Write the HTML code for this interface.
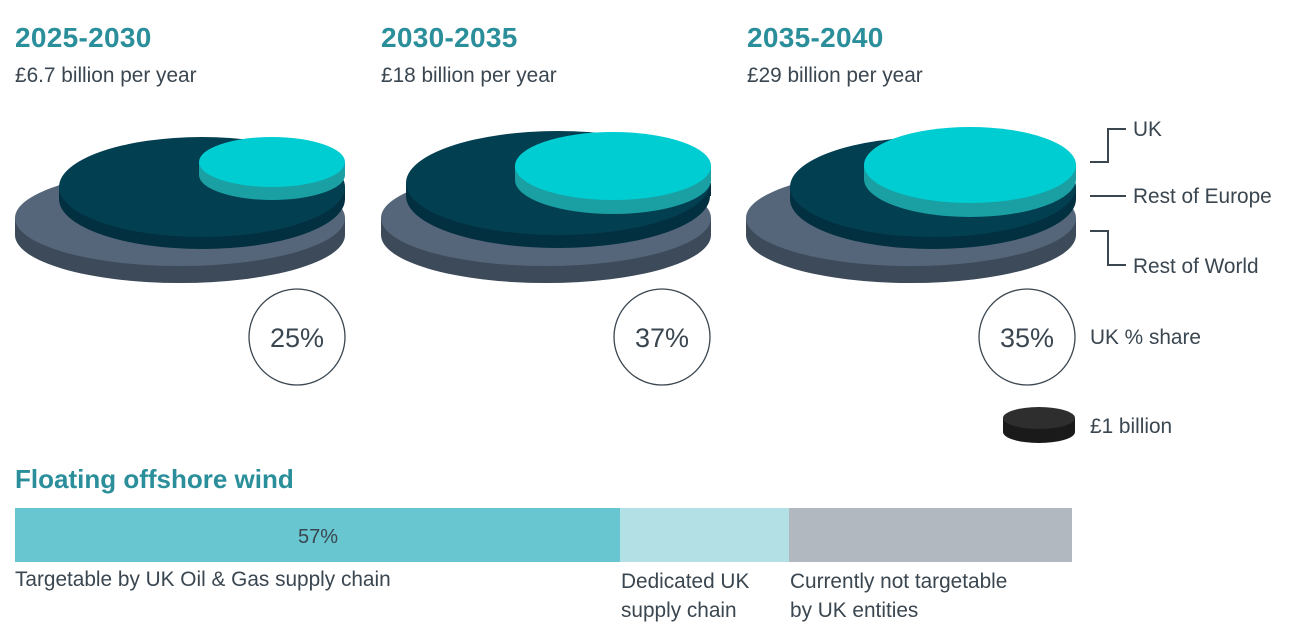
<!DOCTYPE html>
<html><head><meta charset="utf-8"><style>
body{margin:0;width:1304px;height:628px;background:#fff;font-family:"Liberation Sans",sans-serif;position:relative;overflow:hidden;color:#3a4650}
.t{position:absolute;color:#2a8f9a;font-weight:bold;font-size:28px;letter-spacing:0.3px}
.s{position:absolute;font-size:20.8px;color:#3a4650}
</style></head><body>
<div class="t" style="left:15px;top:22px">2025-2030</div>
<div class="t" style="left:381px;top:22px">2030-2035</div>
<div class="t" style="left:747px;top:22px">2035-2040</div>
<div class="s" style="left:15px;top:64px">£6.7 billion per year</div>
<div class="s" style="left:381px;top:64px">£18 billion per year</div>
<div class="s" style="left:747px;top:64px">£29 billion per year</div>
<svg width="1304" height="628" style="position:absolute;left:0;top:0">
<g>
<ellipse cx="180" cy="235" rx="165" ry="48" fill="#3d4a5a"/><rect x="15" y="218" width="330" height="17" fill="#3d4a5a"/><ellipse cx="180" cy="218" rx="165" ry="48" fill="#56667a"/>
<ellipse cx="202" cy="199" rx="143" ry="50" fill="#023040"/><rect x="59" y="187" width="286" height="12" fill="#023040"/><ellipse cx="202" cy="187" rx="143" ry="50" fill="#023f51"/>
<ellipse cx="272" cy="175" rx="73" ry="25" fill="#1a9fa3"/><rect x="199" y="162" width="146" height="13" fill="#1a9fa3"/><ellipse cx="272" cy="162" rx="73" ry="25" fill="#00cdd2"/>
</g>
<g>
<ellipse cx="546" cy="235" rx="165" ry="48" fill="#3d4a5a"/><rect x="381" y="218" width="330" height="17" fill="#3d4a5a"/><ellipse cx="546" cy="218" rx="165" ry="48" fill="#56667a"/>
<ellipse cx="558" cy="196" rx="152" ry="52" fill="#023040"/><rect x="406" y="183" width="305" height="13" fill="#023040"/><ellipse cx="558" cy="183" rx="152" ry="52" fill="#023f51"/>
<ellipse cx="613" cy="180" rx="98" ry="34" fill="#1a9fa3"/><rect x="515" y="166" width="196" height="14" fill="#1a9fa3"/><ellipse cx="613" cy="166" rx="98" ry="34" fill="#00cdd2"/>
</g>
<g>
<ellipse cx="911" cy="235" rx="165" ry="48" fill="#3d4a5a"/><rect x="746" y="218" width="330" height="17" fill="#3d4a5a"/><ellipse cx="911" cy="218" rx="165" ry="48" fill="#56667a"/>
<ellipse cx="933" cy="199" rx="143" ry="50" fill="#023040"/><rect x="790" y="187" width="286" height="12" fill="#023040"/><ellipse cx="933" cy="187" rx="143" ry="50" fill="#023f51"/>
<ellipse cx="970" cy="179" rx="106" ry="38" fill="#1a9fa3"/><rect x="864" y="165" width="212" height="14" fill="#1a9fa3"/><ellipse cx="970" cy="165" rx="106" ry="38" fill="#00cdd2"/>
</g>
<g fill="none" stroke="#3a4650" stroke-width="1.3">
<circle cx="297" cy="337" r="48"/><circle cx="662" cy="337" r="48"/><circle cx="1027" cy="337" r="48"/>
<polyline points="1090,162 1108,162 1108,129 1126,129" stroke-width="2"/>
<line x1="1090" y1="196" x2="1126" y2="196" stroke-width="2"/>
<polyline points="1090,231 1108,231 1108,265 1126,265" stroke-width="2"/>
</g>
<g font-size="27" fill="#3a4650" text-anchor="middle">
<text x="297" y="347">25%</text><text x="662" y="347">37%</text><text x="1027" y="347">35%</text>
</g>
<ellipse cx="1039" cy="432" rx="36" ry="11" fill="#1a1a1a"/><rect x="1003" y="418" width="72" height="14" fill="#1a1a1a"/><ellipse cx="1039" cy="418" rx="36" ry="11" fill="#2e2e2e"/>
<rect x="15" y="508" width="605" height="54" fill="#67c6cf"/>
<rect x="620" y="508" width="169" height="54" fill="#b3e0e5"/>
<rect x="789" y="508" width="283" height="54" fill="#b1b8c0"/>
<text x="318" y="543" font-size="20" fill="#3a4650" text-anchor="middle">57%</text>
</svg>
<div class="s" style="left:1133px;top:118px">UK</div>
<div class="s" style="left:1133px;top:185px">Rest of Europe</div>
<div class="s" style="left:1133px;top:255px">Rest of World</div>
<div class="s" style="left:1090px;top:326px">UK % share</div>
<div class="s" style="left:1090px;top:415px">£1 billion</div>
<div class="t" style="left:15px;top:464px;font-size:26px;letter-spacing:0">Floating offshore wind</div>
<div class="s" style="left:15px;top:568px">Targetable by UK Oil &amp; Gas supply chain</div>
<div class="s" style="left:621px;top:567px;line-height:29px">Dedicated UK<br>supply chain</div>
<div class="s" style="left:790px;top:567px;line-height:29px">Currently not targetable<br>by UK entities</div>
</body></html>
